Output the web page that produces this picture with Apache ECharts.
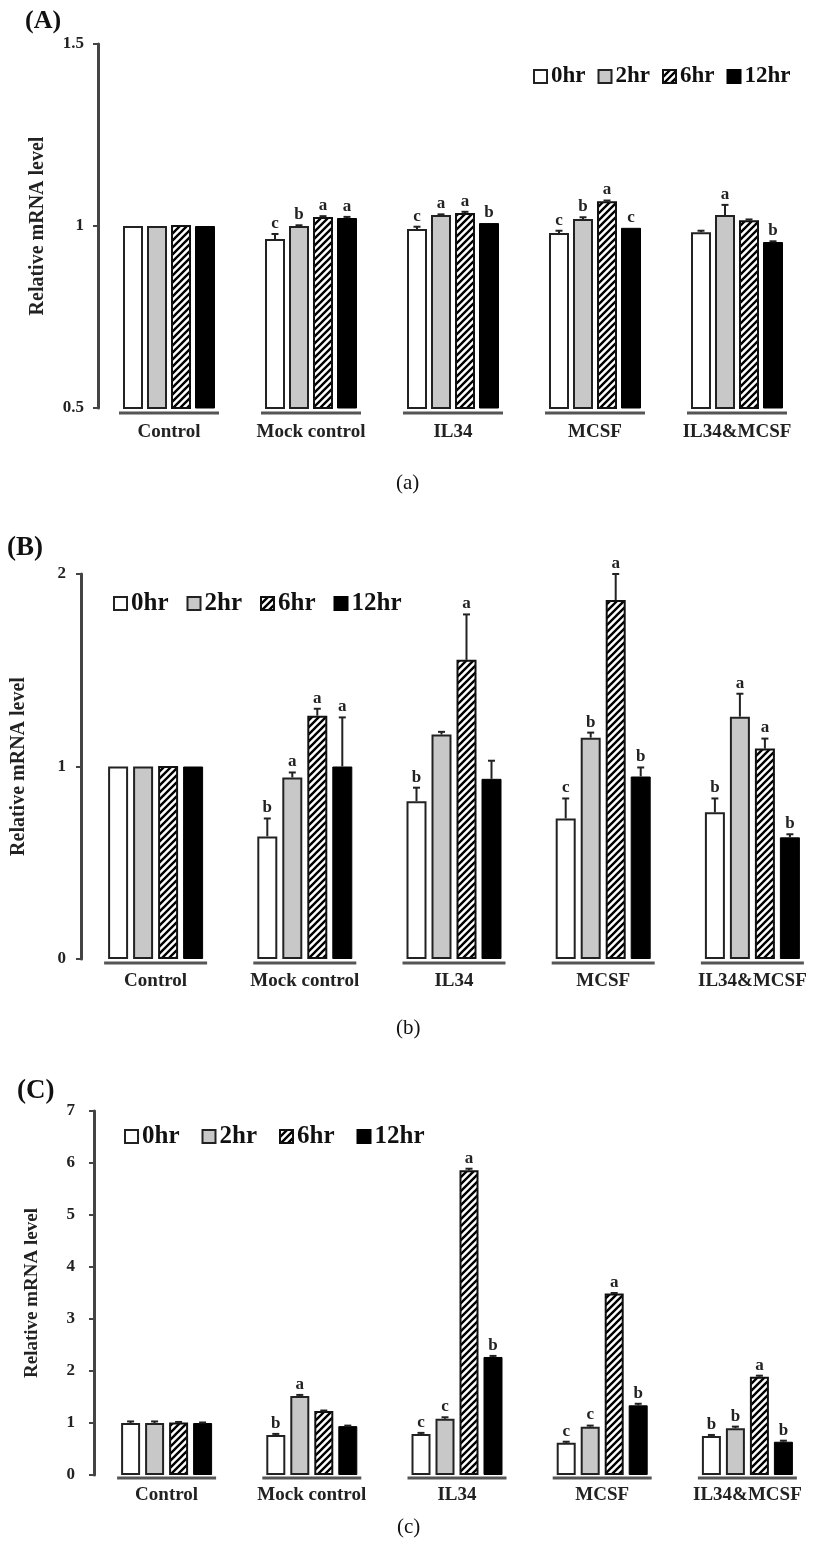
<!DOCTYPE html>
<html><head><meta charset="utf-8">
<script src="https://cdn.jsdelivr.net/npm/echarts@6/dist/echarts.min.js"></script>
<style>html,body{margin:0;padding:0;background:#fff}#c{width:827px;height:1551px}</style>
</head><body><div id="c"></div>
<script>
// ---------- DATA ----------
const categories = ['Control', 'Mock control', 'IL34', 'MCSF', 'IL34&MCSF'];
const seriesNames = ['0hr', '2hr', '6hr', '12hr'];

// Panel A
const yTicksA = [0.5, 1, 1.5];
const A_0hr = [1.0, 0.964, 0.992, 0.981, 0.983];
const A_2hr = [1.0, 1.000, 1.030, 1.019, 1.030];
const A_6hr = [1.003, 1.025, 1.036, 1.068, 1.016];
const A_12hr = [1.0, 1.022, 1.008, 0.995, 0.956];
const A_0hr_err = [0, 0.014, 0.006, 0.006, 0.004];
const A_2hr_err = [0, 0.002, 0.002, 0.005, 0.028];
const A_6hr_err = [0, 0.002, 0.003, 0.002, 0.002];
const A_12hr_err = [0, 0.003, 0, 0, 0.002];
const A_0hr_sig = ['', 'c', 'c', 'c', ''];
const A_2hr_sig = ['', 'b', 'a', 'b', 'a'];
const A_6hr_sig = ['', 'a', 'a', 'a', ''];
const A_12hr_sig = ['', 'a', 'b', 'c', 'b'];

// Panel B
const yTicksB = [0, 1, 2];
const B_0hr = [1.0, 0.637, 0.82, 0.73, 0.762];
const B_2hr = [1.0, 0.943, 1.166, 1.15, 1.259];
const B_6hr = [1.003, 1.264, 1.554, 1.865, 1.093];
const B_12hr = [1.0, 1.0, 0.936, 0.948, 0.632];
const B_0hr_err = [0, 0.093, 0.07, 0.104, 0.072];
const B_2hr_err = [0, 0.026, 0.014, 0.026, 0.119];
const B_6hr_err = [0, 0.036, 0.236, 0.135, 0.052];
const B_12hr_err = [0, 0.255, 0.094, 0.047, 0.016];
const B_0hr_sig = ['', 'b', 'b', 'c', 'b'];
const B_2hr_sig = ['', 'a', '', 'b', 'a'];
const B_6hr_sig = ['', 'a', 'a', 'a', 'a'];
const B_12hr_sig = ['', 'a', '', 'b', 'b'];

// Panel C
const yTicksC = [0, 1, 2, 3, 4, 5, 6, 7];
const C_0hr = [1.0, 0.77, 0.79, 0.62, 0.75];
const C_2hr = [1.0, 1.52, 1.08, 0.93, 0.90];
const C_6hr = [1.01, 1.23, 5.86, 3.49, 1.89];
const C_12hr = [1.0, 0.94, 2.27, 1.34, 0.64];
const C_0hr_err = [0.03, 0.02, 0.02, 0.02, 0.02];
const C_2hr_err = [0.03, 0.02, 0.03, 0.02, 0.03];
const C_6hr_err = [0.01, 0.01, 0.03, 0.01, 0.02];
const C_12hr_err = [0.01, 0.01, 0.02, 0.03, 0.02];
const C_0hr_sig = ['', 'b', 'c', 'c', 'b'];
const C_2hr_sig = ['', 'a', 'c', 'c', 'b'];
const C_6hr_sig = ['', '', 'a', 'a', 'a'];
const C_12hr_sig = ['', '', 'b', 'b', 'b'];

// ---------- STYLE / LAYOUT ----------
const FONT = '"Liberation Serif", "Times New Roman", serif';
function makeHatch() {
  const s = 7, c = document.createElement('canvas');
  c.width = s; c.height = s;
  const g = c.getContext('2d');
  g.fillStyle = '#fff'; g.fillRect(0, 0, s, s);
  g.strokeStyle = '#000'; g.lineWidth = 2.4; g.lineCap = 'square';
  g.beginPath();
  g.moveTo(-2, 2); g.lineTo(2, -2);
  g.moveTo(-1, s + 1); g.lineTo(s + 1, -1);
  g.moveTo(s - 2, s + 2); g.lineTo(s + 2, s - 2);
  g.stroke();
  return c;
}
const hatch = makeHatch();
const itemStyles = [
  { color: '#ffffff', borderColor: '#222', borderWidth: 2 },
  { color: '#c8c8c8', borderColor: '#222', borderWidth: 2 },
  { color: { image: hatch, repeat: 'repeat' }, borderColor: '#111', borderWidth: 2 },
  { color: '#000000', borderColor: '#000', borderWidth: 1 }
];

const panels = [
  { grid: { left: 98, top: 44, width: 710, height: 364 }, ticks: yTicksA,
    vals: [A_0hr, A_2hr, A_6hr, A_12hr], errs: [A_0hr_err, A_2hr_err, A_6hr_err, A_12hr_err],
    sig: [A_0hr_sig, A_2hr_sig, A_6hr_sig, A_12hr_sig],
    bw: 20, gap: 4, ulDy: 5, labelMargin: 14, xLabelMargin: 15, nameGap: 50, nameSize: 20,
    legend: { left: 528, top: 60, itemGap: 12, fontSize: 23 } },
  { grid: { left: 81, top: 574, width: 752, height: 385 }, ticks: yTicksB,
    vals: [B_0hr, B_2hr, B_6hr, B_12hr], errs: [B_0hr_err, B_2hr_err, B_6hr_err, B_12hr_err],
    sig: [B_0hr_sig, B_2hr_sig, B_6hr_sig, B_12hr_sig],
    bw: 20, gap: 5, ulDy: 4, labelMargin: 15, xLabelMargin: 13, nameGap: 52, nameSize: 20,
    legend: { left: 108, top: 586, itemGap: 18, fontSize: 25 } },
  { grid: { left: 94, top: 1111, width: 726, height: 364 }, ticks: yTicksC,
    vals: [C_0hr, C_2hr, C_6hr, C_12hr], errs: [C_0hr_err, C_2hr_err, C_6hr_err, C_12hr_err],
    sig: [C_0hr_sig, C_2hr_sig, C_6hr_sig, C_12hr_sig],
    bw: 19, gap: 5, ulDy: 3, labelMargin: 19, xLabelMargin: 11, nameGap: 52, nameSize: 19,
    legend: { left: 119, top: 1119, itemGap: 22, fontSize: 25 } }
];

const option = {
  animation: false,
  backgroundColor: '#fff',
  title: [
    { text: '(A)', left: 20, top: 3, textStyle: { fontFamily: FONT, fontWeight: 'bold', fontSize: 26, color: '#111' } },
    { text: '(B)', left: 2, top: 530, textStyle: { fontFamily: FONT, fontWeight: 'bold', fontSize: 27, color: '#111' } },
    { text: '(C)', left: 12, top: 1073, textStyle: { fontFamily: FONT, fontWeight: 'bold', fontSize: 27, color: '#111' } },
    { text: '(a)', left: 391, top: 468, textStyle: { fontFamily: FONT, fontWeight: 'normal', fontSize: 21, color: '#111' } },
    { text: '(b)', left: 391, top: 1013, textStyle: { fontFamily: FONT, fontWeight: 'normal', fontSize: 21, color: '#111' } },
    { text: '(c)', left: 392, top: 1512, textStyle: { fontFamily: FONT, fontWeight: 'normal', fontSize: 21, color: '#111' } }
  ],
  grid: [], xAxis: [], yAxis: [], legend: [], series: []
};

panels.forEach((p, gi) => {
  option.grid.push(Object.assign({ containLabel: false }, p.grid));
  option.xAxis.push({
    type: 'category', gridIndex: gi, data: categories,
    axisLine: { show: false }, axisTick: { show: false },
    axisLabel: { margin: p.xLabelMargin, fontFamily: FONT, fontWeight: 'bold', fontSize: 19, color: '#222' }
  });
  const t = p.ticks;
  option.yAxis.push({
    type: 'value', gridIndex: gi, min: t[0], max: t[t.length - 1], interval: t[1] - t[0],
    name: 'Relative mRNA level', nameLocation: 'middle', nameGap: p.nameGap, nameRotate: 90,
    nameTextStyle: { fontFamily: FONT, fontWeight: 'bold', fontSize: p.nameSize, color: '#222' },
    axisLine: { show: true, lineStyle: { color: '#444', width: 3 } },
    axisTick: { show: true, length: 5, lineStyle: { color: '#444', width: 2 } },
    splitLine: { show: false },
    axisLabel: { margin: p.labelMargin, fontFamily: FONT, fontWeight: 'bold', fontSize: 17, color: '#222' }
  });
  option.legend.push({
    left: p.legend.left, top: p.legend.top, itemGap: p.legend.itemGap,
    itemWidth: 13, itemHeight: 13, icon: 'rect', data: seriesNames, selectedMode: false,
    textStyle: { fontFamily: FONT, fontWeight: 'bold', fontSize: p.legend.fontSize, color: '#111', padding: [0, 0, 0, -1] }
  });
  const barGap = (p.gap / p.bw * 100) + '%';
  seriesNames.forEach((nm, s) => {
    option.series.push({
      type: 'bar', name: nm, xAxisIndex: gi, yAxisIndex: gi,
      data: p.vals[s], barWidth: p.bw, barGap: barGap, itemStyle: itemStyles[s], clip: true, z: 2
    });
  });
  // error bars + significance letters
  const errData = [], letters = [];
  seriesNames.forEach((nm, s) => {
    p.vals[s].forEach((v, i) => {
      errData.push([i, v + p.errs[s][i], s, v]);
      letters.push(p.sig[s][i]);
    });
  });
  const step = p.bw + p.gap;
  option.series.push({
    type: 'custom', xAxisIndex: gi, yAxisIndex: gi, data: errData, z: 5, silent: true,
    encode: { x: 0, y: 1 }, clip: false,
    renderItem: function (params, api) {
      const i = api.value(0), top = api.value(1), s = api.value(2), v = api.value(3);
      const b = api.coord([i, v]), tp = api.coord([i, top]);
      const x = b[0] + (s - 1.5) * step;
      const ch = [];
      if (tp[1] < b[1] - 0.5) {
        ch.push({ type: 'line', shape: { x1: x, y1: b[1], x2: x, y2: tp[1] }, style: { stroke: '#222', lineWidth: 2 } });
        ch.push({ type: 'line', shape: { x1: x - 3.5, y1: tp[1], x2: x + 3.5, y2: tp[1] }, style: { stroke: '#222', lineWidth: 2 } });
      }
      const L = letters[params.dataIndex];
      if (L) {
        ch.push({ type: 'text', style: { text: L, x: x, y: Math.min(tp[1], b[1]) - 2, align: 'center', verticalAlign: 'bottom',
          font: 'bold 17px ' + FONT, fill: '#222' } });
      }
      return { type: 'group', children: ch };
    }
  });
  // group underlines
  const half = (4 * p.bw + 3 * p.gap) / 2 + 4;
  option.series.push({
    type: 'custom', xAxisIndex: gi, yAxisIndex: gi, z: 1, silent: true, clip: false,
    data: categories.map((c, i) => [i, t[0]]), encode: { x: 0, y: 1 },
    renderItem: function (params, api) {
      const c = api.coord([api.value(0), api.value(1)]);
      return { type: 'line', shape: { x1: c[0] - half, y1: c[1] + p.ulDy, x2: c[0] + half, y2: c[1] + p.ulDy },
        style: { stroke: '#555', lineWidth: 3 } };
    }
  });
});

const chart = echarts.init(document.getElementById('c'), null, { renderer: 'canvas', width: 827, height: 1551 });
chart.setOption(option);
</script>
</body></html>
